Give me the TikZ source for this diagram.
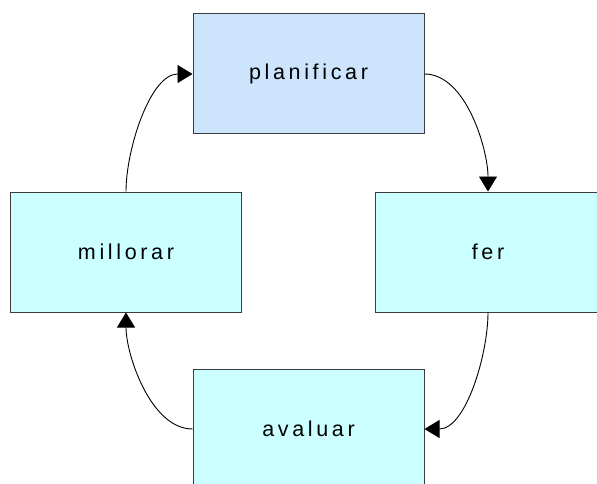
\documentclass[tikz,border=0pt]{standalone}
\usepackage{fontspec}
\setmainfont{Liberation Sans}[LetterSpace=17,Ligatures=NoCommon]
\usetikzlibrary{arrows.meta}
\definecolor{planblue}{HTML}{CCE4FC}
\definecolor{boxcyan}{HTML}{CCFFFF}
\definecolor{edgegray}{HTML}{3C3C3C}
\begin{document}
\begin{tikzpicture}[x=1pt,y=-1pt,
  stagebox/.style={draw=edgegray,line width=1pt,minimum width=231pt,minimum height=120pt,
    inner sep=0pt,font=\fontsize{21.5}{25}\selectfont,text=black},
  flow/.style={line width=0.9pt,-{Triangle[length=15pt,width=18pt]},looseness=0.8}]
\useasboundingbox (0,0) rectangle (597,484);
\clip (0,0) rectangle (597,484);
\node[stagebox,fill=planblue] (plan) at (308.5,74) {planificar};
\node[stagebox,fill=boxcyan] (mill) at (126,252) {millorar};
\node[stagebox,fill=boxcyan,minimum width=226pt] (fer) at (488,252) {fer};
\node[stagebox,fill=boxcyan] (aval) at (308.5,429) {avaluar};
\draw[flow] (plan.east) to[out=0,in=90] (fer.north);
\draw[flow] (fer.south) to[out=-90,in=0] (aval.east);
\draw[flow] (aval.west) to[out=180,in=-90] (mill.south);
\draw[flow] (mill.north) to[out=90,in=180] (plan.west);
\end{tikzpicture}
\end{document}
